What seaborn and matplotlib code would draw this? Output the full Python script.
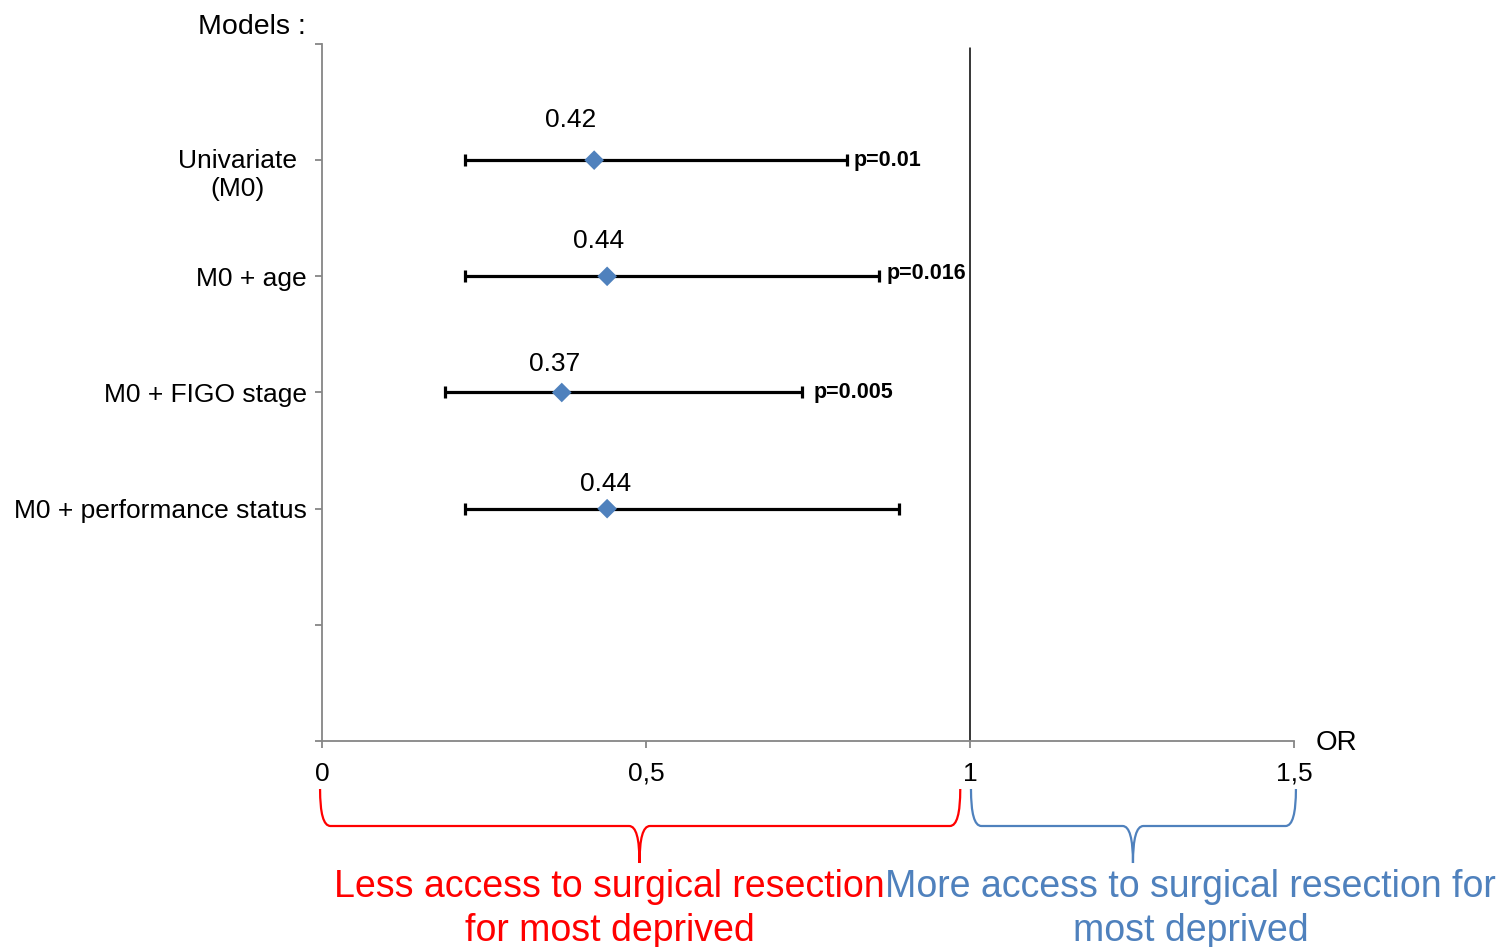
import numpy as np
import pandas as pd
import matplotlib
matplotlib.use("Agg")
import matplotlib.pyplot as plt
import seaborn as sns
from matplotlib.path import Path
from matplotlib.patches import PathPatch
from matplotlib.transforms import blended_transform_factory

# ---------------- data ----------------
models = ["Univariate\n(M0)", "M0 + age", "M0 + FIGO stage", "M0 + performance status"]
odds_ratio = [0.42, 0.44, 0.37, 0.44]
ci_low = [0.22, 0.22, 0.19, 0.22]
ci_high = [0.81, 0.86, 0.74, 0.89]
or_labels = ["0.42", "0.44", "0.37", "0.44"]
p_values = ["p=0.01", "p=0.016", "p=0.005", ""]
x_ticks = [0, 0.5, 1, 1.5]
x_tick_labels = ["0", "0,5", "1", "1,5"]
less_text = "Less access to surgical resection\nfor most deprived"
more_text = "More access to surgical resection for\nmost deprived"

# ---------------- layout ----------------
or_label_offsets = [(-24, 40), (-9, 35), (-7, 29), (-2, 25)]   # pixels
p_offsets = [(7, 0), (7, 3), (12, 0)]                            # pixels

sns.set_style("white")
plt.rcParams["font.family"] = ["Liberation Sans", "DejaVu Sans"]
plt.rcParams["text.color"] = "black"

W, H = 1499, 947
fig = plt.figure(figsize=(W / 100, H / 100), dpi=100)
ax = fig.add_axes([322 / W, 1 - 741 / H, 972 / W, 697 / H])

n = len(models)
ypos = [n + 1 - i for i in range(n)]
df = pd.DataFrame({"model": models, "OR": odds_ratio, "lo": ci_low, "hi": ci_high, "y": ypos})

ax.set_xlim(0, 1.5)
ax.set_ylim(0, n + 2)

# reference line at OR = 1
ax.axvline(1, ymin=0, ymax=(741 - 48) / 697, color="black", lw=1.1, zorder=1)

# confidence intervals
ax.errorbar(df["OR"], df["y"],
            xerr=[df["OR"] - df["lo"], df["hi"] - df["OR"]],
            fmt="none", ecolor="black", elinewidth=2.3, capsize=4.5, capthick=2.3, zorder=2)

# point estimates
sns.scatterplot(data=df, x="OR", y="y", marker="D", s=100, color="#4F81BD",
                edgecolor="none", linewidth=0, zorder=3, ax=ax)
ax.set_xlabel("")
ax.set_ylabel("")

# OR value labels
for (xv, yv, lab, off) in zip(df["OR"], df["y"], or_labels, or_label_offsets):
    ax.annotate(lab, xy=(xv, yv), xytext=off, textcoords="offset pixels",
                ha="center", va="center", fontsize=19, color="black")

# p-values
for (xv, yv, lab, off) in zip(df["hi"], df["y"], p_values, p_offsets):
    if lab:
        ax.annotate(lab, xy=(xv, yv), xytext=off, textcoords="offset pixels",
                    ha="left", va="center", fontsize=15.5, fontweight="bold", color="black")

# axes styling
grey = "#868686"
for s in ["top", "right"]:
    ax.spines[s].set_visible(False)
for s in ["left", "bottom"]:
    ax.spines[s].set_color(grey)
    ax.spines[s].set_linewidth(1.3)

ax.set_xticks(x_ticks)
ax.set_xticklabels(x_tick_labels, fontsize=19)
yt = list(range(n + 3))
ax.set_yticks(yt)
ylabels = [""] * len(yt)
for m, y in zip(models, ypos):
    ylabels[y] = "" if "\n" in m else m
ax.set_yticklabels(ylabels, fontsize=19)
ax.tick_params(axis="both", direction="out", length=5, width=1.3, color=grey,
               labelcolor="black", left=True, bottom=True)
ax.tick_params(axis="x", pad=10)
ax.tick_params(axis="y", pad=6)

# multi-line label for first model, centered under itself
for m, y in zip(models, ypos):
    if "\n" in m:
        ax.annotate(m, xy=(0, y), xytext=(-85, -15), textcoords="offset pixels",
                    ha="center", va="center", multialignment="center",
                    fontsize=19, color="black", annotation_clip=False)

fig.text(306 / W, 1 - 27 / H, "Models :", ha="right", va="center", fontsize=20.5, color="black")
ax.annotate("OR", xy=(1.5, 0), xytext=(22, -2), textcoords="offset pixels",
            ha="left", va="center", fontsize=20, color="black", annotation_clip=False)

# braces below the axis
tr = blended_transform_factory(ax.transData, fig.transFigure)
def fy(px):
    return 1 - px / H

def brace(x0, x1, xm, color, r=0.016):
    yt_, yh, ytip = fy(789), fy(826), fy(863)
    verts = [(x0, yt_), (x0, yh), (x0 + r, yh),
             (xm - r, yh), (xm, yh), (xm, ytip),
             (xm, yh), (xm + r, yh),
             (x1 - r, yh), (x1, yh), (x1, yt_)]
    codes = [Path.MOVETO, Path.CURVE3, Path.CURVE3,
             Path.LINETO, Path.CURVE3, Path.CURVE3,
             Path.CURVE3, Path.CURVE3,
             Path.LINETO, Path.CURVE3, Path.CURVE3]
    patch = PathPatch(Path(verts, codes), transform=tr, fill=False,
                      edgecolor=color, lw=1.6, clip_on=False)
    fig.add_artist(patch)

red = "#FF0000"
blue = "#4F81BD"
brace(-0.003, 0.985, 0.49, red)
brace(1.0015, 1.503, 1.2515, blue)

ax.text(0.444, fy(869), less_text, transform=tr, ha="center", va="top",
        multialignment="center", fontsize=27, color=red, linespacing=1.27, clip_on=False)
ax.text(1.34, fy(869), more_text, transform=tr, ha="center", va="top",
        multialignment="center", fontsize=27, color=blue, linespacing=1.27, clip_on=False)

fig.savefig("out.png", dpi=100)
